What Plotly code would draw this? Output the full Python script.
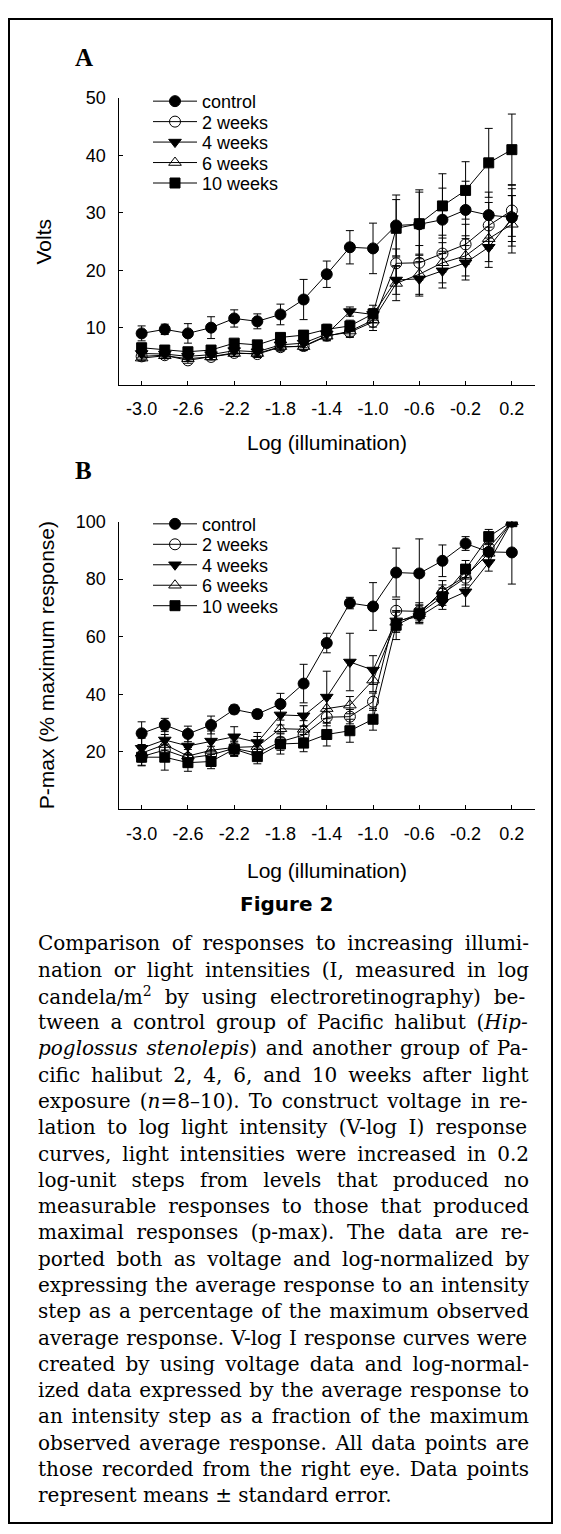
import struct, glob, re
import plotly.graph_objects as go

# page is shown with the browser's default 8px body margin, so the figure is
# sized to fit the 561x1534 window and positions are given in window px
WIN_W, WIN_H = 561, 1534
OFF = 8
W, H = WIN_W - OFF, WIN_H - 2 * OFF

# ---------------- data ----------------
log_illum = [-3.0, -2.8, -2.6, -2.4, -2.2, -2.0, -1.8, -1.6, -1.4, -1.2,
             -1.0, -0.8, -0.6, -0.4, -0.2, 0.0, 0.2]
series_names = ["control", "2 weeks", "4 weeks", "6 weeks", "10 weeks"]

x_tickvals = [-3.0, -2.6, -2.2, -1.8, -1.4, -1.0, -0.6, -0.2, 0.2]
x_ticktext = ["-3.0", "-2.6", "-2.2", "-1.8", "-1.4", "-1.0", "-0.6", "-0.2", "0.2"]
a_tickvals = [10, 20, 30, 40, 50]
b_tickvals = [20, 40, 60, 80, 100]

# Panel A: Volts
a_control = [9.0, 9.7, 9.0, 10.0, 11.6, 11.1, 12.3, 14.9, 19.3, 24.0, 23.8, 27.8, 28.0, 28.8, 30.5, 29.6, 29.2]
a_control_err = [1.3, 0.9, 1.7, 1.9, 1.5, 1.3, 1.8, 3.5, 2.3, 2.9, 4.4, 5.3, 6.0, 5.5, 5.0, 4.0, 5.0]
a_2w = [5.0, 5.2, 4.3, 4.9, 5.6, 5.4, 6.6, 6.8, 8.6, 9.2, 11.0, 21.2, 21.3, 22.9, 24.5, 27.8, 30.4]
a_2w_err = [0.5, 0.5, 0.5, 0.5, 0.6, 0.6, 0.7, 0.7, 0.8, 0.9, 1.5, 2.5, 3.0, 3.2, 3.5, 4.0, 4.5]
a_4w = [5.5, 5.4, 5.0, 5.3, 6.0, 5.8, 7.0, 7.3, 8.9, 12.8, 12.3, 18.3, 18.5, 19.9, 21.3, 24.0, 29.0]
a_4w_err = [0.6, 0.5, 0.5, 0.5, 0.6, 0.6, 0.7, 0.8, 0.9, 0.8, 1.0, 2.5, 3.0, 3.0, 3.0, 3.5, 4.0]
a_6w = [4.7, 5.1, 4.6, 4.9, 5.5, 5.5, 6.7, 6.7, 8.5, 9.4, 11.3, 17.7, 19.3, 21.3, 22.5, 25.5, 28.0]
a_6w_err = [0.5, 0.5, 0.5, 0.5, 0.5, 0.5, 0.7, 0.7, 0.8, 0.9, 1.2, 3.0, 3.5, 3.5, 3.5, 4.0, 5.0]
a_10w = [6.5, 6.1, 5.8, 6.1, 7.3, 7.0, 8.3, 8.7, 9.7, 10.3, 12.4, 27.3, 28.1, 31.2, 33.9, 38.7, 41.0]
a_10w_err = [0.7, 0.6, 0.6, 0.6, 0.6, 0.6, 0.7, 0.8, 0.9, 1.0, 1.5, 5.0, 5.5, 5.6, 5.0, 6.0, 6.2]

# Panel B: P-max (% maximum response)
b_control = [26.4, 29.3, 26.2, 29.3, 34.7, 33.1, 36.6, 43.7, 57.8, 71.7, 70.5, 82.3, 82.0, 86.4, 92.4, 89.5, 89.3]
b_control_err = [4.0, 2.3, 2.7, 3.1, 1.5, 1.5, 3.7, 6.7, 3.4, 2.0, 8.3, 8.5, 12.0, 5.5, 2.4, 3.0, 11.0]
b_2w = [18.3, 20.6, 17.8, 18.9, 21.2, 19.5, 23.5, 25.8, 32.0, 32.2, 37.4, 69.0, 68.8, 75.0, 80.5, 91.0, 100.0]
b_2w_err = [3.0, 3.5, 3.0, 3.0, 2.5, 2.5, 3.0, 3.0, 3.0, 2.5, 3.0, 4.0, 3.0, 3.0, 3.5, 3.0, 0.5]
b_4w = [21.2, 24.1, 22.0, 23.7, 25.2, 23.2, 32.8, 32.5, 39.0, 51.2, 48.4, 65.5, 67.0, 72.0, 75.6, 85.8, 100.0]
b_4w_err = [3.5, 3.5, 3.0, 3.5, 3.5, 3.5, 3.5, 3.5, 9.0, 10.0, 5.0, 3.5, 2.5, 2.5, 5.0, 3.0, 0.5]
b_6w = [19.5, 22.5, 18.5, 20.5, 21.5, 21.8, 28.0, 27.8, 35.0, 36.2, 44.9, 65.0, 68.0, 76.0, 81.0, 89.0, 100.0]
b_6w_err = [3.0, 3.5, 3.0, 3.0, 3.0, 3.5, 3.0, 3.0, 3.5, 3.0, 4.0, 3.5, 3.0, 3.5, 3.0, 3.0, 0.5]
b_10w = [18.1, 18.1, 16.2, 16.6, 20.9, 18.3, 22.7, 23.0, 26.0, 27.3, 31.3, 64.0, 68.0, 73.9, 83.5, 94.8, 100.0]
b_10w_err = [3.0, 4.5, 3.0, 2.5, 2.5, 2.5, 3.5, 3.0, 4.0, 4.0, 3.8, 5.0, 3.0, 3.0, 3.0, 2.5, 0.5]

caption_lines = [
    "Comparison of responses to increasing illumi-",
    "nation or light intensities (I, measured in log",
    "candela/m<sup>2</sup> by using electroretinography) be-",
    "tween a control group of  Pacific halibut (<i>Hip-</i>",
    "<i>poglossus stenolepis</i>) and another group of Pa-",
    "cific halibut 2, 4, 6, and 10 weeks after light",
    "exposure (<i>n</i>=8\u201310). To construct voltage in re-",
    "lation to log light intensity (V-log I) response",
    "curves, light intensities were increased in 0.2",
    "log-unit steps from levels that produced no",
    "measurable responses to those that produced",
    "maximal responses (p-max). The data are re-",
    "ported both as voltage and log-normalized by",
    "expressing the average response to an intensity",
    "step as a percentage of the maximum observed",
    "average response. V-log I response curves were",
    "created by using voltage data and log-normal-",
    "ized data expressed by the average response to",
    "an intensity step as a fraction of the maximum",
    "observed average response. All data points are",
    "those recorded from the right eye. Data points",
    "represent means \u00b1 standard error.",
]

# ---------------- helpers ----------------
def px(x):
    return (x - OFF) / W

def py(y):
    return 1 - (y - OFF) / H

SANS = "Liberation Sans, Arial, sans-serif"
SERIF_CAP = "DejaVu Serif, serif"


def load_adv(path):
    with open(path, "rb") as f:
        data = f.read()
    nt = struct.unpack(">H", data[4:6])[0]
    tabs = {}
    for i in range(nt):
        tag, cs, off, ln = struct.unpack(">4sIII", data[12 + 16 * i:28 + 16 * i])
        tabs[tag.decode("latin1")] = off
    upem = struct.unpack(">H", data[tabs["head"] + 18:tabs["head"] + 20])[0]
    nhm = struct.unpack(">H", data[tabs["hhea"] + 34:tabs["hhea"] + 36])[0]
    ho = tabs["hmtx"]
    adv = [struct.unpack(">H", data[ho + 4 * i:ho + 4 * i + 2])[0] for i in range(nhm)]
    co = tabs["cmap"]
    n = struct.unpack(">H", data[co + 2:co + 4])[0]
    sub = None
    for i in range(n):
        pid, eid, so = struct.unpack(">HHI", data[co + 4 + 8 * i:co + 12 + 8 * i])
        fmt = struct.unpack(">H", data[co + so:co + so + 2])[0]
        if pid == 3 and eid == 1 and fmt == 4:
            sub = co + so
    segx2 = struct.unpack(">H", data[sub + 6:sub + 8])[0]
    seg = segx2 // 2
    ends = struct.unpack(">%dH" % seg, data[sub + 14:sub + 14 + segx2])
    starts = struct.unpack(">%dH" % seg, data[sub + 16 + segx2:sub + 16 + 2 * segx2])
    deltas = struct.unpack(">%dh" % seg, data[sub + 16 + 2 * segx2:sub + 16 + 3 * segx2])
    rpos = sub + 16 + 3 * segx2
    roffs = struct.unpack(">%dH" % seg, data[rpos:rpos + segx2])

    def gid(c):
        for i in range(seg):
            if ends[i] >= c:
                if starts[i] > c:
                    return 0
                if roffs[i] == 0:
                    return (c + deltas[i]) & 0xFFFF
                gp = rpos + 2 * i + roffs[i] + 2 * (c - starts[i])
                g = struct.unpack(">H", data[gp:gp + 2])[0]
                return (g + deltas[i]) & 0xFFFF if g else 0
        return 0

    def width(s, size):
        tot = 0
        for ch in s:
            g = gid(ord(ch))
            tot += adv[min(g, nhm - 1)]
        return tot / upem * size
    return width


measure = None
cands = glob.glob("/usr/share/fonts/**/DejaVuSerif.ttf", recursive=True)
if cands:
    try:
        measure = load_adv(cands[0])
    except Exception:
        measure = None

# ---------------- figure ----------------
fig = go.Figure()

styles = [
    dict(symbol="circle", size=11, color="black", line=dict(color="black", width=1)),
    dict(symbol="circle-open", size=11, color="black", line=dict(color="black", width=1)),
    dict(symbol="triangle-down", size=11, color="black", line=dict(color="black", width=1)),
    dict(symbol="triangle-up-open", size=11, color="black", line=dict(color="black", width=1)),
    dict(symbol="square", size=10, color="black", line=dict(color="black", width=1)),
]

panel_a = [(a_control, a_control_err), (a_2w, a_2w_err), (a_4w, a_4w_err),
           (a_6w, a_6w_err), (a_10w, a_10w_err)]
panel_b = [(b_control, b_control_err), (b_2w, b_2w_err), (b_4w, b_4w_err),
           (b_6w, b_6w_err), (b_10w, b_10w_err)]

legend_layouts = {}
leg_x_px = 148
a_rows = [92, 112.6, 133.2, 153.8, 174.4]
b_rows = [517.5, 538.1, 558.7, 579.3, 599.9]

k = 1
for panel, (xa, ya, rows) in zip([panel_a, panel_b], [("x", "y", a_rows), ("x2", "y2", b_rows)]):
    for i, (vals, errs) in enumerate(panel):
        lname = "legend" if k == 1 else "legend%d" % k
        fig.add_trace(go.Scatter(
            x=log_illum, y=vals, name=series_names[i],
            mode="lines+markers", xaxis=xa, yaxis=ya,
            line=dict(color="black", width=1),
            marker=styles[i],
            error_y=dict(type="data", array=errs, visible=True, color="black",
                         thickness=1, width=4),
            legend=lname, showlegend=True,
        ))
        legend_layouts[lname] = dict(
            x=px(leg_x_px), y=py(rows[i]), xanchor="left", yanchor="middle",
            bgcolor="rgba(0,0,0,0)", borderwidth=0, itemwidth=44,
            font=dict(family=SANS, size=18, color="black"),
        )
        k += 1

axis_common = dict(showline=True, linecolor="black", linewidth=1, ticks="inside",
                   ticklen=4, tickwidth=1, tickcolor="black", showgrid=False,
                   zeroline=False, tickfont=dict(family=SANS, size=18, color="black"))

xdom = [px(118.5), px(535)]
fig.update_layout(
    width=W, height=H, margin=dict(l=0, r=0, t=0, b=0),
    paper_bgcolor="white", plot_bgcolor="white",
    xaxis=dict(domain=xdom, range=[-3.2, 0.4], tickvals=x_tickvals, ticktext=x_ticktext,
               anchor="y", ticklabelstandoff=7, **axis_common),
    yaxis=dict(domain=[py(377.5), py(88.5)], range=[0, 50], tickvals=a_tickvals,
               anchor="x", ticklabelstandoff=8, **axis_common),
    xaxis2=dict(domain=xdom, range=[-3.2, 0.4], tickvals=x_tickvals, ticktext=x_ticktext,
                anchor="y2", ticklabelstandoff=8, **axis_common),
    yaxis2=dict(domain=[py(804.5), py(515)], range=[0, 100], tickvals=b_tickvals,
                anchor="x2", ticklabelstandoff=8, **axis_common),
    showlegend=True,
    **legend_layouts,
)

ann = []
serif_bold = dict(family="Liberation Serif, Times New Roman, serif", size=25, color="black")
ann.append(dict(text="<b>A</b>", x=px(73), y=py(48), xref="paper", yref="paper",
                xanchor="left", yanchor="middle", showarrow=False, font=serif_bold))
ann.append(dict(text="<b>B</b>", x=px(73), y=py(464), xref="paper", yref="paper",
                xanchor="left", yanchor="middle", showarrow=False, font=serif_bold))
title_font = dict(family=SANS, size=21, color="black")
ann.append(dict(text="Volts", x=px(44), y=py(233), xref="paper", yref="paper",
                xanchor="center", yanchor="middle", textangle=-90, showarrow=False,
                font=title_font))
ann.append(dict(text="P-max (% maximum response)", x=px(46), y=py(659.5), xref="paper", yref="paper",
                xanchor="center", yanchor="middle", textangle=-90, showarrow=False,
                font=title_font))
ann.append(dict(text="Log (illumination)", x=px(326.8), y=py(435.5), xref="paper", yref="paper",
                xanchor="center", yanchor="middle", showarrow=False, font=title_font))
ann.append(dict(text="Log (illumination)", x=px(326.8), y=py(866.5), xref="paper", yref="paper",
                xanchor="center", yanchor="middle", showarrow=False, font=title_font))
ann.append(dict(text="<b>Figure 2</b>", x=px(286), y=py(899.5), xref="paper", yref="paper",
                xanchor="center", yanchor="middle", showarrow=False,
                font=dict(family="DejaVu Sans, Verdana, sans-serif", size=20, color="black")))

cap_left, cap_right = 36, 527
cap_top, cap_step = 939.5, 26.45
cap_size = 20
for j, line in enumerate(caption_lines):
    txt = line.replace("  ", " ")
    if measure is not None and j < len(caption_lines) - 1:
        plain = re.sub(r"<[^>]+>", "", txt)
        nsp = plain.count(" ")
        natural = measure(plain, cap_size)
        extra = (cap_right - cap_left - natural) / max(nsp, 1)
        if 0 < extra < 30:
            txt = '<span style="word-spacing:%.2fpx">%s</span>' % (extra, txt)
    ann.append(dict(text=txt, x=px(cap_left), y=py(cap_top + j * cap_step),
                    xref="paper", yref="paper", xanchor="left", yanchor="middle",
                    align="left", showarrow=False,
                    font=dict(family=SERIF_CAP, size=cap_size, color="black")))

fig.update_layout(annotations=ann)
fig.add_shape(type="rect", xref="paper", yref="paper",
              x0=px(9), x1=px(552), y0=py(9), y1=py(1523),
              line=dict(color="black", width=2), fillcolor="rgba(0,0,0,0)")

fig.write_html("out.html")
